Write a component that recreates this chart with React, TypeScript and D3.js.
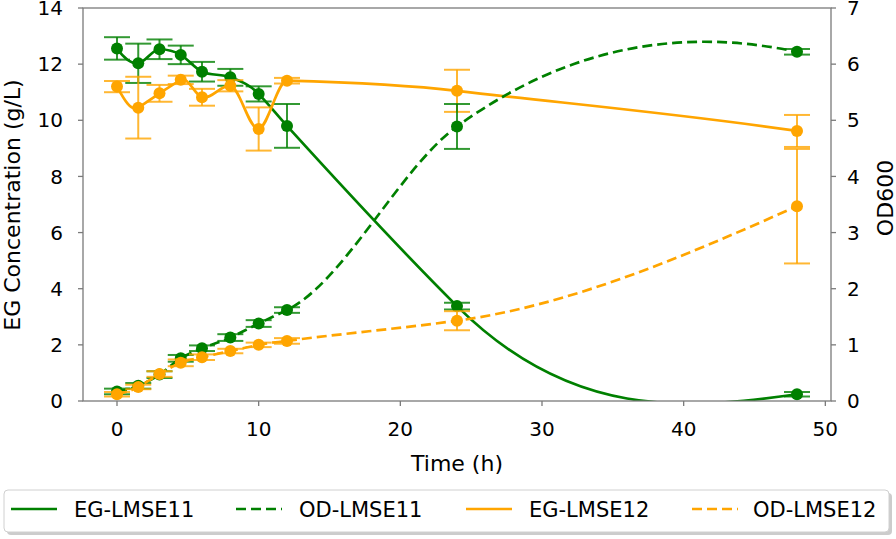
import React from "react";
import * as d3 from "d3";

const time = [0, 1.5, 3, 4.5, 6, 8, 10, 12, 24, 48];
const eg11 = [12.56, 12.03, 12.53, 12.33, 11.73, 11.53, 10.94, 9.8, 3.38, 0.24];
const eg11Err = [0.4, 0.7, 0.35, 0.33, 0.35, 0.3, 0.27, 0.78, 0.12, 0.08];
const od11 = [0.17, 0.27, 0.47, 0.76, 0.94, 1.13, 1.38, 1.62, 4.89, 6.22];
const od11Err = [0.05, 0.05, 0.06, 0.06, 0.05, 0.06, 0.06, 0.05, 0.4, 0.05];
const eg12 = [11.2, 10.45, 10.96, 11.44, 10.82, 11.23, 9.69, 11.41, 11.05, 9.62];
const eg12Err = [0.2, 1.1, 0.3, 0.15, 0.3, 0.2, 0.77, 0.1, 0.75, 0.57];
const od12 = [0.12, 0.25, 0.48, 0.68, 0.78, 0.89, 1.0, 1.07, 1.43, 3.47];
const od12Err = [0.04, 0.04, 0.05, 0.06, 0.05, 0.04, 0.04, 0.05, 0.17, 1.02];

const xTicks = [0, 10, 20, 30, 40, 50];
const yLeftTicks = [0, 2, 4, 6, 8, 10, 12, 14];
const yRightTicks = [0, 1, 2, 3, 4, 5, 6, 7];
const legendLabels = ["EG-LMSE11", "OD-LMSE11", "EG-LMSE12", "OD-LMSE12"];

const GREEN = "#008000";
const ORANGE = "#FFA500";
const FONT = "DejaVu Sans";
const DASH = "10,5";

const W = 896, H = 539;
const L = 83, R = 831, T = 8, B = 401;

// Akima interpolating curve factory, usable with d3.line().curve(...)
function curveAkima(context: any) {
  let xs: number[] = [];
  let ys: number[] = [];
  return {
    areaStart() {},
    areaEnd() {},
    lineStart() {
      xs = [];
      ys = [];
    },
    point(x: number, y: number) {
      xs.push(+x);
      ys.push(+y);
    },
    lineEnd() {
      const n = xs.length;
      if (n === 0) return;
      context.moveTo(xs[0], ys[0]);
      if (n < 3) {
        for (let i = 1; i < n; i++) context.lineTo(xs[i], ys[i]);
        return;
      }
      const m = new Array(n + 3).fill(0);
      for (let i = 0; i < n - 1; i++) m[i + 2] = (ys[i + 1] - ys[i]) / (xs[i + 1] - xs[i]);
      m[1] = 2 * m[2] - m[3];
      m[0] = 2 * m[1] - m[2];
      m[n + 1] = 2 * m[n] - m[n - 1];
      m[n + 2] = 2 * m[n + 1] - m[n];
      const dm: number[] = [];
      for (let k = 0; k < n + 2; k++) dm.push(Math.abs(m[k + 1] - m[k]));
      const t: number[] = [];
      for (let i = 0; i < n; i++) {
        const f1 = dm[i + 2];
        const f2 = dm[i];
        const f12 = f1 + f2;
        if (f12 > 1e-9) t.push((f1 * m[i + 1] + f2 * m[i + 2]) / f12);
        else t.push(0.5 * (m[i + 1] + m[i + 2]));
      }
      for (let i = 0; i < n - 1; i++) {
        const h = xs[i + 1] - xs[i];
        context.bezierCurveTo(
          xs[i] + h / 3,
          ys[i] + (t[i] * h) / 3,
          xs[i + 1] - h / 3,
          ys[i + 1] - (t[i + 1] * h) / 3,
          xs[i + 1],
          ys[i + 1]
        );
      }
    },
  };
}

export default function App() {
  const x = d3.scaleLinear().domain([-2.4, 50.4]).range([L, R]);
  const yL = d3.scaleLinear().domain([0, 14]).range([B, T]);
  const yR = d3.scaleLinear().domain([0, 7]).range([B, T]);

  const series = [
    { vals: eg11, err: eg11Err, y: yL, color: GREEN, dash: null },
    { vals: eg12, err: eg12Err, y: yL, color: ORANGE, dash: null },
    { vals: od11, err: od11Err, y: yR, color: GREEN, dash: DASH },
    { vals: od12, err: od12Err, y: yR, color: ORANGE, dash: DASH },
  ];

  const lineFor = (s: any) =>
    d3
      .line<number>()
      .x((_, i) => x(time[i]))
      .y((v) => s.y(v))
      .curve(curveAkima as any)(s.vals);

  const legendItems = [
    { label: legendLabels[0], color: GREEN, dash: null, hx: 11, tx: 74 },
    { label: legendLabels[1], color: GREEN, dash: DASH, hx: 236, tx: 299 },
    { label: legendLabels[2], color: ORANGE, dash: null, hx: 466, tx: 529 },
    { label: legendLabels[3], color: ORANGE, dash: DASH, hx: 692, tx: 753 },
  ];

  return (
    <svg width={W} height={H} style={{ position: "absolute", left: 0, top: 0, background: "#fff" }} fontFamily={FONT}>
      <defs>
        <clipPath id="plotclip">
          <rect x={L} y={T} width={R - L} height={B - T} />
        </clipPath>
      </defs>
      <rect x={0} y={0} width={W} height={H} fill="#fff" />

      {series.map((s, k) => (
        <g key={k} clipPath="url(#plotclip)">
          <path d={lineFor(s) || ""} fill="none" stroke={s.color} strokeWidth={2.7} strokeDasharray={s.dash || undefined} />
          {s.vals.map((v, i) => {
            const cx = x(time[i]);
            const y1 = s.y(v + s.err[i]);
            const y0 = s.y(v - s.err[i]);
            return (
              <g key={i} stroke={s.color} strokeWidth={2} strokeOpacity={0.8}>
                <line x1={cx} x2={cx} y1={y1} y2={y0} />
                <line x1={cx - 13} x2={cx + 13} y1={y1} y2={y1} />
                <line x1={cx - 13} x2={cx + 13} y1={y0} y2={y0} />
              </g>
            );
          })}
          {s.vals.map((v, i) => (
            <circle key={"c" + i} cx={x(time[i])} cy={s.y(v)} r={6} fill={s.color} />
          ))}
        </g>
      ))}

      {/* frame */}
      <rect x={L} y={T} width={R - L} height={B - T} fill="none" stroke="#7a7a7a" strokeWidth={1.3} />

      {xTicks.map((t) => (
        <g key={"x" + t}>
          <line x1={x(t)} x2={x(t)} y1={B} y2={B + 5} stroke="#7a7a7a" strokeWidth={1.3} />
          <text x={x(t)} y={436} textAnchor="middle" fontSize={20} fill="#000">{t}</text>
        </g>
      ))}
      {yLeftTicks.map((t) => (
        <g key={"yl" + t}>
          <line x1={L - 5} x2={L} y1={yL(t)} y2={yL(t)} stroke="#7a7a7a" strokeWidth={1.3} />
          <text x={63} y={yL(t)} dy="0.36em" textAnchor="end" fontSize={20} fill="#000">{t}</text>
        </g>
      ))}
      {yRightTicks.map((t) => (
        <g key={"yr" + t}>
          <line x1={R} x2={R + 5} y1={yR(t)} y2={yR(t)} stroke="#7a7a7a" strokeWidth={1.3} />
          <text x={847} y={yR(t)} dy="0.36em" textAnchor="start" fontSize={20} fill="#000">{t}</text>
        </g>
      ))}

      <text x={(L + R) / 2} y={471} textAnchor="middle" fontSize={22} fill="#000">Time (h)</text>
      <text transform="translate(20,205) rotate(-90)" textAnchor="middle" fontSize={22} fill="#000">EG Concentration (g/L)</text>
      <text transform="translate(893,198) rotate(-90)" textAnchor="middle" fontSize={22} fill="#000">OD600</text>

      {/* legend */}
      <rect x={7} y={493} width={885} height={42} rx={4} fill="#999" opacity={0.5} />
      <rect x={4} y={490} width={885} height={42} rx={4} fill="#fff" stroke="#d0d0d0" strokeWidth={1} />
      {legendItems.map((it) => (
        <g key={it.label}>
          <line x1={it.hx} x2={it.hx + 46} y1={509} y2={509} stroke={it.color} strokeWidth={2.7} strokeDasharray={it.dash || undefined} />
          <text x={it.tx} y={517} fontSize={21} fill="#000">{it.label}</text>
        </g>
      ))}
    </svg>
  );
}
